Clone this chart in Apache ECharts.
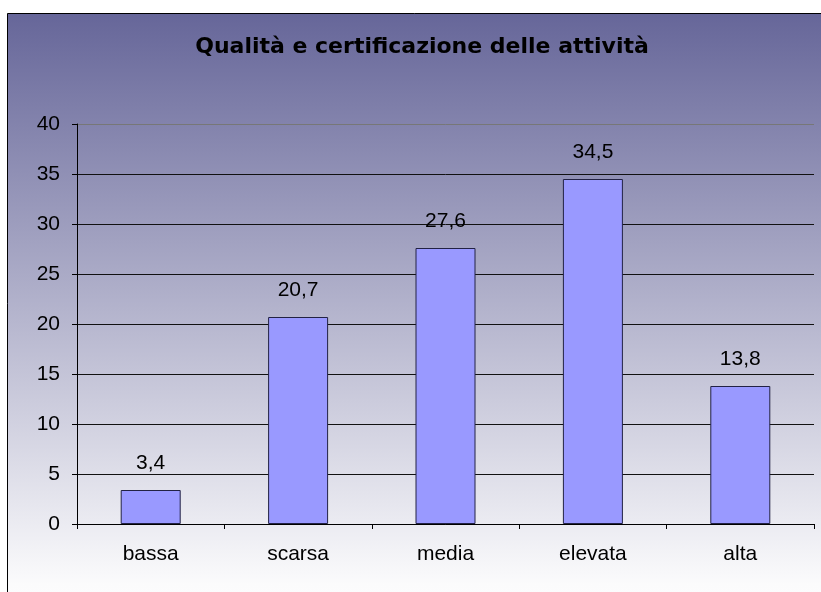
<!DOCTYPE html>
<html>
<head>
<meta charset="utf-8">
<title></title>
<style>
  html, body { margin: 0; padding: 0; background: #fff; }
  #main { width: 821px; height: 592px; }
</style>
</head>
<body>
<div id="main"></div>
<script src="https://cdn.jsdelivr.net/npm/echarts@6/dist/echarts.min.js"></script>
<script>
  // categorie e valori (%)
  var categorie = ['bassa', 'scarsa', 'media', 'elevata', 'alta'];
  var valori = [3.4, 20.7, 27.6, 34.5, 13.8];
  var titolo = 'Qualità e certificazione delle attività';

  var font = 'Liberation Sans, Arial, sans-serif';
  var mychart = echarts.init(document.getElementById('main'));

  // ultima linea (40) più chiara, come nell'originale
  var coloriGriglia = ['#111', '#111', '#111', '#111', '#111', '#111', '#111', '#111', '#777'];

  var option = {
    backgroundColor: '#fff',
    animation: false,
    graphic: [{
      type: 'rect',
      z: -10,
      silent: true,
      shape: { x: 7.5, y: 13.5, width: 830, height: 620 },
      style: {
        fill: new echarts.graphic.LinearGradient(0, 0, 0, 1, [
          { offset: 0, color: '#666699' },
          { offset: 0.92, color: '#fbfbfc' },
          { offset: 1, color: '#ffffff' }
        ]),
        stroke: '#000',
        lineWidth: 1
      }
    }],
    title: {
      text: titolo,
      left: 417,
      top: 31,
      textAlign: 'center',
      textStyle: { fontFamily: 'DejaVu Sans', fontSize: 22, fontWeight: 'bold', color: '#000' }
    },
    grid: { left: 77, right: 7, top: 124, bottom: 68, containLabel: false },
    xAxis: {
      type: 'category',
      data: categorie,
      axisLine: { lineStyle: { color: '#000', width: 1 } },
      axisTick: { show: true, length: 5, alignWithLabel: false, lineStyle: { color: '#000' } },
      axisLabel: { margin: 20, fontFamily: font, fontSize: 21, color: '#000' }
    },
    yAxis: {
      type: 'value',
      min: 0,
      max: 40,
      interval: 5,
      axisLine: { show: true, lineStyle: { color: '#000', width: 1 } },
      axisTick: { show: true, length: 5, lineStyle: { color: '#000' } },
      axisLabel: { margin: 17, fontFamily: font, fontSize: 21, color: '#000' },
      splitLine: { show: true, lineStyle: { color: coloriGriglia, width: 1 } }
    },
    series: [{
      type: 'bar',
      data: valori,
      barWidth: 60,
      itemStyle: { color: '#9999ff', borderColor: '#222244', borderWidth: 1 },
      label: {
        show: true,
        position: 'top',
        distance: 16,
        fontFamily: font,
        fontSize: 21,
        color: '#000',
        formatter: function (p) { return String(p.value).replace('.', ','); }
      }
    }]
  };
  mychart.setOption(option);
</script>
</body>
</html>
